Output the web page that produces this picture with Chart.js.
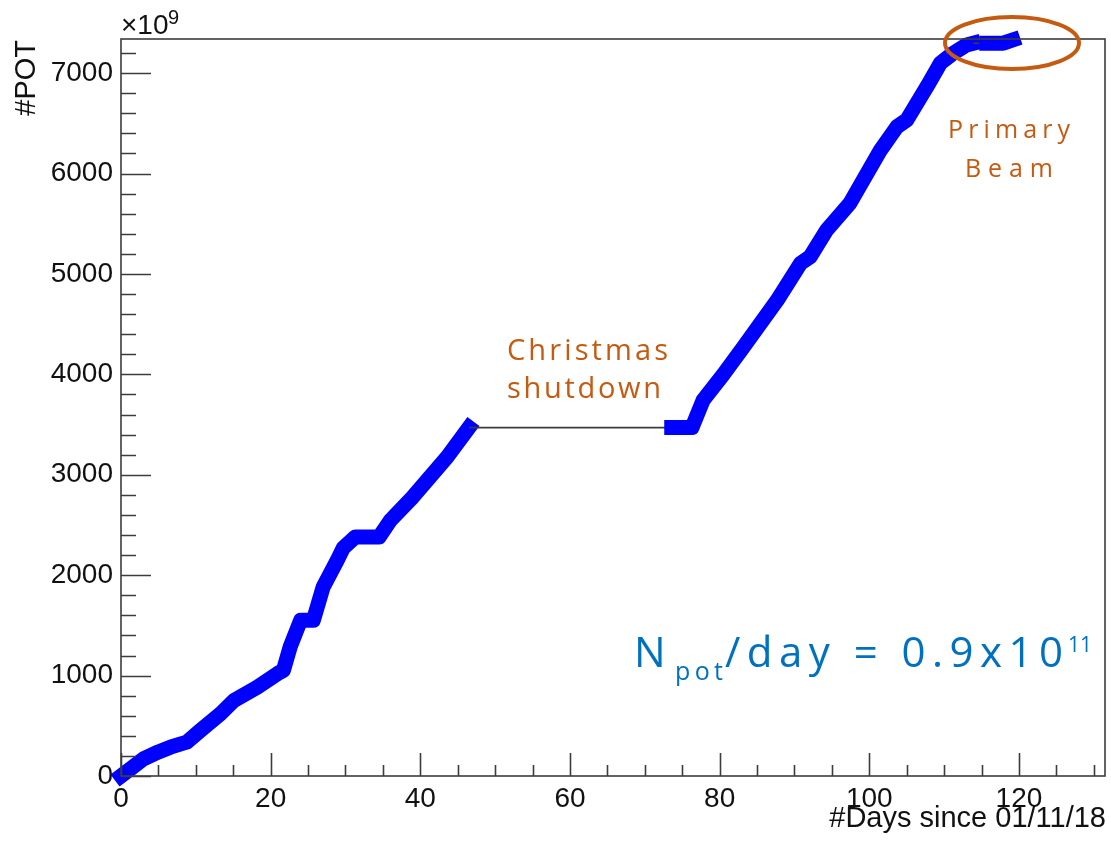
<!DOCTYPE html>
<html>
<head>
<meta charset="utf-8">
<title>POT vs days</title>
<script src="https://cdn.jsdelivr.net/npm/chart.js@4.4.1/dist/chart.umd.min.js"></script>
<style>
  html, body { margin: 0; padding: 0; background: #fff; }
</style>
</head>
<body>
<canvas id="myChart" width="1111" height="842"></canvas>
<script>
// cumulative protons on target (units of 1e9)
var days = [0, 1.5, 3.0, 5.0, 6.6, 8.0, 8.8, 10.6, 13.3, 15.1, 18.2, 20.9, 21.7, 22.6, 24.0, 25.7,
            27.0, 28.9, 29.7, 31.3, 34.5, 36.0, 39.0, 40.9, 43.6, 46.5,
            73.6, 76.3, 77.8, 80.5, 83.2, 87.7, 90.8, 92.1, 94.3, 97.4, 101.5, 103.7, 105.0,
            107.7, 109.5, 111.2, 113.0, 113.9, 115.7, 117.9, 119.2];
var pot  = [0, 85, 171, 240, 287, 320, 337, 453, 620, 752, 885, 1019, 1052, 1284, 1550, 1550,
            1879, 2148, 2270, 2380, 2380, 2546, 2779, 2945, 3178, 3470,
            3470, 3470, 3743, 4000, 4274, 4739, 5105, 5171, 5437, 5703, 6234, 6466, 6533,
            6865, 7099, 7198, 7281, 7298, 7298, 7298, 7331];
// no beam after these days (drawn as thin connecting line)
var beamOff = [46.5, 113.9];

var xTicks = [0, 20, 40, 60, 80, 100, 120];
var yTicks = [0, 1000, 2000, 3000, 4000, 5000, 6000, 7000];
var xMax = 131.5;
var yMax = 7340;

var points = [];
for (var i = 0; i < days.length; i++) {
  points.push({ x: days[i], y: pot[i] });
}

var ORANGE = '#c55a11';
var BLUE_TXT = '#0070c0';

// draw text stretched over a given width with letter spacing (powerpoint look)
function spaced(c, txt, x, y, w) {
  c.letterSpacing = '0px';
  var m = c.measureText(txt).width;
  var sp = (w - m) / (txt.length - 1);
  if (sp < 0) sp = 0;
  c.letterSpacing = sp + 'px';
  c.fillText(txt, x, y);
  c.letterSpacing = '0px';
}

var rootFrame = {
  id: 'rootFrame',
  afterDraw: function(chart) {
    var c = chart.ctx;
    var a = chart.chartArea;
    var xs = chart.scales.x;
    var ys = chart.scales.y;
    c.save();

    // frame + ROOT style inner ticks
    c.strokeStyle = '#3c3c3c';
    c.lineWidth = 1.6;
    c.strokeRect(a.left, a.top, a.right - a.left, a.bottom - a.top);
    c.beginPath();
    for (var d = 0; d <= xMax; d += 5) {
      var px = Math.round(xs.getPixelForValue(d)) + 0.5;
      var len = (d % 20 === 0) ? 23 : 11;
      c.moveTo(px, a.bottom);
      c.lineTo(px, a.bottom - len);
    }
    for (var v = 0; v <= yMax; v += 200) {
      var py = Math.round(ys.getPixelForValue(v)) + 0.5;
      var len2 = (v % 1000 === 0) ? 30 : 15;
      c.moveTo(a.left, py);
      c.lineTo(a.left + len2, py);
    }
    c.stroke();

    // axis titles
    c.fillStyle = '#111';
    c.font = '29px "Liberation Sans", Arial, sans-serif';
    c.textAlign = 'right';
    c.textBaseline = 'alphabetic';
    c.fillText('#Days since 01/11/18', 1106, 827);

    c.save();
    c.translate(35, 40);
    c.rotate(-Math.PI / 2);
    c.textAlign = 'right';
    c.fillText('#POT', 0, 0);
    c.restore();

    c.font = '28px "Liberation Sans", Arial, sans-serif';
    c.textAlign = 'left';
    c.fillText('\u00d710', 121, 34);
    c.font = '20px "Liberation Sans", Arial, sans-serif';
    c.fillText('9', 168, 24);

    // annotations
    c.fillStyle = ORANGE;
    c.font = '29px "Open Sans", sans-serif';
    spaced(c, 'Christmas', 507, 360, 161);
    spaced(c, 'shutdown', 507, 398, 154);
    c.font = '25px "Open Sans", sans-serif';
    spaced(c, 'Primary', 948, 138, 122);
    spaced(c, 'Beam', 965, 177, 88);

    c.strokeStyle = ORANGE;
    c.lineWidth = 4;
    c.beginPath();
    c.ellipse(1012, 43, 67, 26, 0, 0, Math.PI * 2);
    c.stroke();

    c.fillStyle = BLUE_TXT;
    c.font = '42px "Open Sans", sans-serif';
    c.fillText('N', 634, 667);
    c.font = '25px "Open Sans", sans-serif';
    spaced(c, 'pot', 675, 680, 48);
    c.font = '42px "Open Sans", sans-serif';
    spaced(c, '/day = 0.9x10', 725, 667, 338);
    c.font = '21px "Open Sans", sans-serif';
    spaced(c, '11', 1068, 652, 22);

    c.restore();
  }
};

var tickFont = { family: '"Liberation Sans", Arial, sans-serif', size: 28 };

var ctx = document.getElementById('myChart').getContext('2d');
var chart = new Chart(ctx, {
  type: 'line',
  data: {
    datasets: [{
      label: 'POT',
      data: points,
      borderColor: '#0000ff',
      borderWidth: 15,
      borderJoinStyle: 'round',
      borderCapStyle: 'square',
      pointRadius: 0,
      tension: 0,
      clip: false,
      segment: {
        borderColor: function(s) { return beamOff.indexOf(s.p0.parsed.x) >= 0 ? '#3c3c3c' : undefined; },
        borderWidth: function(s) { return beamOff.indexOf(s.p0.parsed.x) >= 0 ? 1.6 : undefined; },
        borderCapStyle: function(s) { return beamOff.indexOf(s.p0.parsed.x) >= 0 ? 'butt' : undefined; }
      }
    }]
  },
  options: {
    responsive: false,
    animation: false,
    layout: { padding: { top: 39, right: 6, left: 0, bottom: 0 } },
    plugins: {
      legend: { display: false },
      tooltip: { enabled: false }
    },
    scales: {
      x: {
        type: 'linear',
        min: 0,
        max: xMax,
        grid: { display: false, drawTicks: false },
        border: { display: false },
        ticks: {
          autoSkip: false,
          maxRotation: 0,
          padding: 6,
          color: '#111',
          font: tickFont,
          callback: function(v) { return String(v); }
        },
        afterBuildTicks: function(s) {
          s.ticks = xTicks.map(function(v) { return { value: v }; });
        },
        afterFit: function(s) { s.height = 66; }
      },
      y: {
        type: 'linear',
        min: 0,
        max: yMax,
        grid: { display: false, drawTicks: false },
        border: { display: false },
        ticks: {
          autoSkip: false,
          padding: 8,
          color: '#111',
          font: tickFont,
          callback: function(v) { return String(v); }
        },
        afterBuildTicks: function(s) {
          s.ticks = yTicks.map(function(v) { return { value: v }; });
        },
        afterFit: function(s) { s.width = 121; }
      }
    }
  },
  plugins: [rootFrame]
});
</script>
</body>
</html>
